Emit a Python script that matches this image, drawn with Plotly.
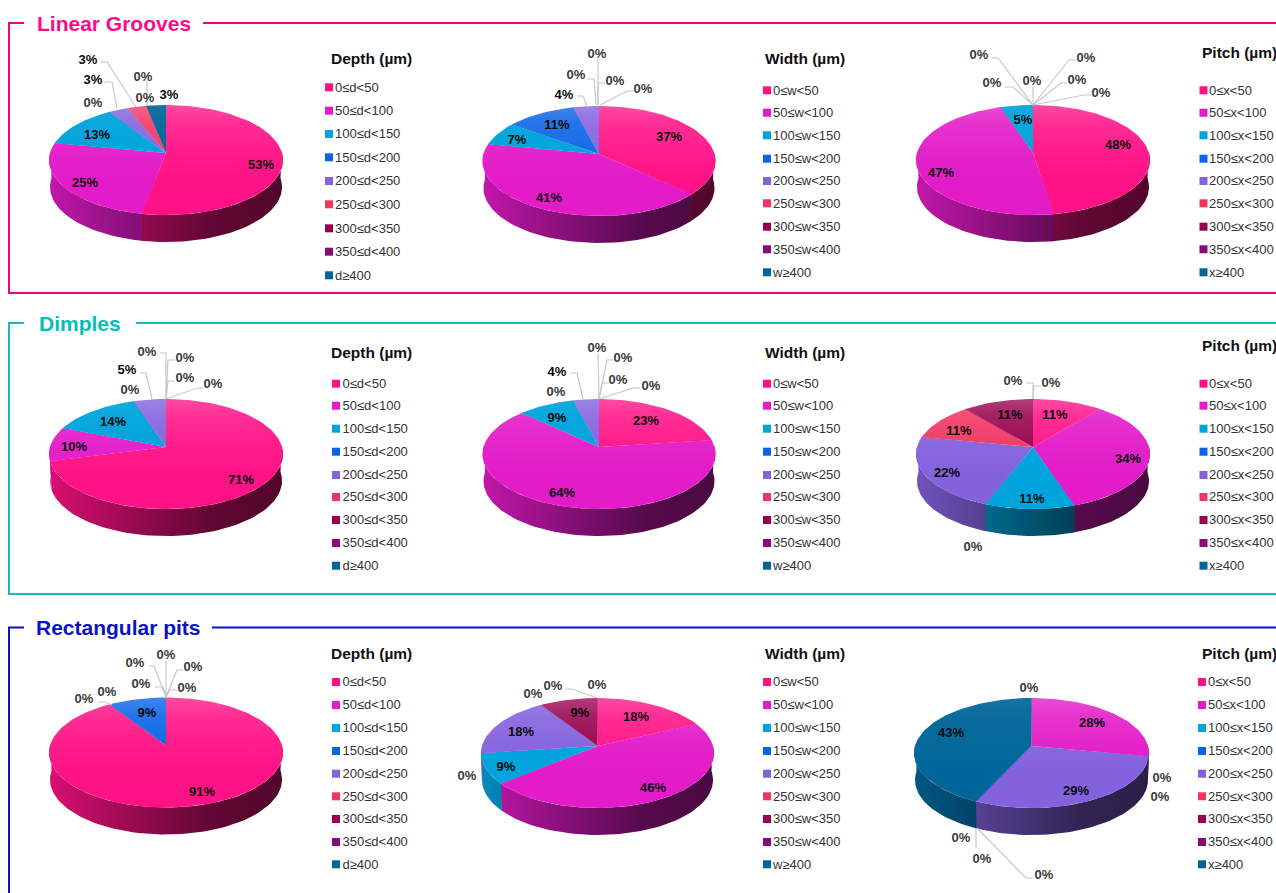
import math
import plotly.graph_objects as go

# ---------- data ----------
DEPTH_LABELS = ["0≤d<50", "50≤d<100", "100≤d<150", "150≤d<200", "200≤d<250",
                "250≤d<300", "300≤d<350", "350≤d<400", "d≥400"]
WIDTH_LABELS = ["0≤w<50", "50≤w<100", "100≤w<150", "150≤w<200", "200≤w<250",
                "250≤w<300", "300≤w<350", "350≤w<400", "w≥400"]
PITCH_LABELS = ["0≤x<50", "50≤x<100", "100≤x<150", "150≤x<200", "200≤x<250",
                "250≤x<300", "300≤x<350", "350≤x<400", "x≥400"]

GROOVES_DEPTH = [53, 25, 13, 0, 3, 3, 0, 0, 3]
GROOVES_WIDTH = [37, 41, 7, 11, 4, 0, 0, 0, 0]
GROOVES_PITCH = [47.6, 47.4, 5, 0, 0, 0, 0, 0, 0]
DIMPLES_DEPTH = [71, 10, 14, 0, 5, 0, 0, 0, 0]
DIMPLES_WIDTH = [23, 64, 9, 0, 4, 0, 0, 0, 0]
DIMPLES_PITCH = [11, 34, 11, 0, 22, 11, 11, 0, 0]
PITS_DEPTH = [91, 0, 0, 9, 0, 0, 0, 0, 0]
PITS_WIDTH = [18, 46, 9, 0, 18, 0, 9, 0, 0]
PITS_PITCH = [0, 28, 0, 0, 29, 0, 0, 0, 43]

# ---------- style ----------
COLORS = ["#FF1285", "#E31BC8", "#00A4DC", "#0A64E6", "#8462DE",
          "#F03560", "#99004F", "#8A0B78", "#006699"]
TINT_SCALE = [1, .9, .3, .9, .85, 1, 1, 1, .35]
FONT = "Liberation Sans"

# ---------- layout: pie placement (centre x, centre y, radius) ----------
PIES = [
    dict(v=GROOVES_DEPTH, c=(166, 153, 116)),
    dict(v=GROOVES_WIDTH, c=(599, 154, 115.5)),
    dict(v=GROOVES_PITCH, c=(1033, 153, 116)),
    dict(v=DIMPLES_DEPTH, c=(166, 447, 116)),
    dict(v=DIMPLES_WIDTH, c=(599, 447, 115.5)),
    dict(v=DIMPLES_PITCH, c=(1033, 447, 116)),
    dict(v=PITS_DEPTH, c=(166, 745.5, 116)),
    dict(v=PITS_WIDTH, c=(597.5, 746, 115.5)),
    dict(v=PITS_PITCH, c=(1031.5, 746, 116.5)),
]
# label centres, one per category
LABEL_XY = [
    [(261,164),(85,182),(97,134),(93,102),(93,79),(88,59),(143,76),(145,97),(169,94)],
    [(669,136),(549,197),(517,139),(557,124),(564,94),(576,74),(597,53),(615,80),(643,88)],
    [(1118,144),(941,172),(1023,119),(992,82),(979,54),(1032,80),(1086,57),(1077,79),(1101,92)],
    [(241,479),(74,446),(113,421),(130,389),(127,369),(147,351),(185,357),(185,377),(213,383)],
    [(646,420),(562,492),(557,417),(556,391),(557,371),(597,347),(623,357),(618,379),(651,385)],
    [(1055,414),(1128,458),(1032,498),(973,546),(947,472),(959,430),(1010,414),(1013,380),(1051,382)],
    [(202,791),(84,698),(107,691),(147,712),(141,683),(135,662),(166,654),(193,666),(187,687)],
    [(636,716),(653,787),(506,766),(467,775),(521,731),(533,693),(580,712),(553,685),(597,684)],
    [(1029,687),(1092,722),(1162,777),(1160,796),(1076,790),(961,837),(982,858),(1044,874),(951,732)],
]
LEADERS = [
    [[(103,82),(112,82),(117,109)], [(101,62),(107,62),(136,107)], [(147,80),(147,106)]],
    [[(577,96),(583,96),(587,106)], [(587,79),(594,79),(596,105)], [(598,59),(598,105)],
     [(605,83),(598,83),(598,105)], [(633,91),(627,91),(600,105)]],
    [[(1005,87),(1013,87),(1033,105)], [(992,58),(998,58),(1033,105)], [(1033,87),(1033,105)],
     [(1076,60),(1069,60),(1033,105)], [(1067,83),(1061,83),(1033,105)], [(1091,95),(1084,95),(1033,105)]],
    [[(140,373),(146,373),(152,399)], [(160,353),(166,353),(166,399)], [(175,360),(168,360),(166,399)],
     [(175,381),(168,381),(166,399)], [(203,388),(197,388),(166,399)]],
    [[(570,373),(577,373),(583,399)], [(598,353),(599,399)], [(613,360),(607,360),(599,399)],
     [(608,383),(602,383),(599,399)], [(640,388),(633,388),(599,399)]],
    [[(1026,383),(1033,383),(1033,399)], [(1041,386),(1034,386),(1033,399)]],
    [[(98,702),(105,702),(112,705)], [(148,666),(154,666),(166,697)], [(166,661),(166,697)],
     [(183,670),(177,670),(166,697)], [(177,690),(170,690),(166,697)], [(155,687),(163,687),(166,697)]],
    [[(565,689),(572,689),(597,698)]],
    [[(976,828),(976,848)], [(977,828),(1026,878),(1033,878)]],
]
# legend columns: header (x,y,text), marker x, text x, item y's
ROW_Y = [[87.3,110.7,134,157.3,181,204.3,228.3,251.7,275.3],
         [90.3,112.7,135.3,158.7,181,203.3,226.7,249.3,272.3],
         [383.7,405.7,428.7,451.7,475,497,520,543,565.7],
         [682,705,728,751,773.7,796.3,819,842,864.3]]
LEGENDS = [
    dict(h=(331,59,"Depth (µm)"), mx=329, tx=335, ys=ROW_Y[0], t=DEPTH_LABELS),
    dict(h=(765,59,"Width (µm)"), mx=767, tx=773, ys=ROW_Y[1], t=WIDTH_LABELS),
    dict(h=(1202,53,"Pitch (µm)"), mx=1203.5, tx=1209, ys=ROW_Y[1], t=PITCH_LABELS),
    dict(h=(331,353,"Depth (µm)"), mx=336, tx=342.5, ys=ROW_Y[2], t=DEPTH_LABELS),
    dict(h=(765,353,"Width (µm)"), mx=767, tx=773, ys=ROW_Y[2], t=WIDTH_LABELS),
    dict(h=(1202,346,"Pitch (µm)"), mx=1203.5, tx=1209, ys=ROW_Y[2], t=PITCH_LABELS),
    dict(h=(331,654,"Depth (µm)"), mx=336, tx=342.5, ys=ROW_Y[3], t=DEPTH_LABELS),
    dict(h=(765,654,"Width (µm)"), mx=767, tx=773, ys=ROW_Y[3], t=WIDTH_LABELS),
    dict(h=(1202,654,"Pitch (µm)"), mx=1202, tx=1208, ys=ROW_Y[3], t=PITCH_LABELS),
]
PANELS = [
    dict(t="Linear Grooves", tx=37, c="#F5007F", tc="#FF0A85", y0=23, y1=293, gap=(24,203)),
    dict(t="Dimples", tx=39, c="#14BDB8", tc="#05BEB8", y0=323, y1=594, gap=(24,136)),
    dict(t="Rectangular pits", tx=36, c="#0A14C4", tc="#0A14C4", y0=627.5, y1=None, gap=(24,212)),
]

# perspective of the pie's disc
A, K, DEPTH, RIM = 54.1, 0.1273, 27, 0.992
SEAM = 0.3  # degrees of overlap that hides hairlines between neighbouring slices


def rgb(c):
    return tuple(int(c[i:i+2], 16) for i in (1, 3, 5))


def shade(c, f):
    return "rgb(%d,%d,%d)" % tuple(min(255, round(x*f)) for x in rgb(c))


def tint(c, t):
    return "rgb(%d,%d,%d)" % tuple(round(x+(255-x)*t) for x in rgb(c))


def project(deg, cx, cy, R):
    th = math.radians(deg)
    u, v = math.sin(th), math.cos(th)
    w = 1 + K*v
    return cx + R*u/w, cy - A*v/w


fig = go.Figure()
xy = dict(hoverinfo="skip", showlegend=False)

for pie in PIES:
    cx, cy, R = pie["c"]
    vals = pie["v"]
    total = sum(vals)
    a = 0.0
    spans = []
    for val, col, ts in zip(vals, COLORS, TINT_SCALE):
        b = a + 360*val/total
        if val > 0:
            spans.append((a, b, col, ts))
        a = b
    # side wall first
    for a, b, col, ts in spans:
        lo, hi = max(a - SEAM, 88), min(b, 272)
        if hi <= lo:
            continue
        n = max(3, int((hi-lo)/2))
        degs = [lo + (hi-lo)*i/n for i in range(n+1)]
        top = [project(d, cx, cy, R) for d in degs]
        rim = [(cx + (x-cx)*RIM, y + DEPTH) for x, y in top]
        pts = top + rim[::-1]
        fig.add_trace(go.Scatter(
            x=[p[0] for p in pts], y=[p[1] for p in pts], mode="lines",
            line=dict(width=0), fill="toself",
            fillgradient=dict(type="horizontal", start=cx-R, stop=cx+R, colorscale=[
                [0, shade(col, .85)], [.4, shade(col, .57)], [.7, shade(col, .38)], [1, shade(col, .32)]]),
            **xy))
    # top face
    for a, b, col, ts in spans:
        lo = a - SEAM
        n = max(3, int((b-lo)/2))
        degs = [lo + (b-lo)*i/n for i in range(n+1)]
        pts = [(cx, cy)] + [project(d, cx, cy, R) for d in degs]
        fig.add_trace(go.Scatter(
            x=[p[0] for p in pts], y=[p[1] for p in pts], mode="lines",
            line=dict(width=0), fill="toself",
            fillgradient=dict(type="vertical", start=cy-48, stop=cy+62, colorscale=[
                [0, tint(col, .24*ts)], [.16, tint(col, .12*ts)], [.45, tint(col, .04*ts)],
                [.7, tint(col, 0)], [1, tint(col, 0)]]),
            **xy))

# leader lines
for group in LEADERS:
    for line in group:
        fig.add_trace(go.Scatter(x=[p[0] for p in line], y=[p[1] for p in line], mode="lines",
                                 line=dict(color="#C6C6CE", width=1.2), **xy))

# percentage labels
for pie, pos in zip(PIES, LABEL_XY):
    for val, p in zip(pie["v"], pos):
        fig.add_trace(go.Scatter(x=[p[0]], y=[p[1] + 1.5], mode="text", text=[f"{round(val)}%"],
                                 textposition="middle center",
                                 textfont=dict(family=FONT, size=13,
                                               color="#0A0A0A" if val else "#3A3A3A",
                                               weight="bold"), **xy))

# legends
for leg in LEGENDS:
    hx, hy, ht = leg["h"]
    fig.add_trace(go.Scatter(x=[hx], y=[hy + 1.5], mode="text", text=[ht], textposition="middle right",
                             textfont=dict(family=FONT, size=15.5, color="#111111", weight="bold"), **xy))
    fig.add_trace(go.Scatter(x=[leg["mx"]]*9, y=leg["ys"], mode="markers",
                             marker=dict(symbol="square", size=8, color=COLORS), **xy))
    fig.add_trace(go.Scatter(x=[leg["tx"]]*9, y=[y + 1 for y in leg["ys"]], mode="text", text=leg["t"],
                             textposition="middle right",
                             textfont=dict(family=FONT, size=13, color="#333333"), **xy))

# panel frames and titles
for p in PANELS:
    xs = [p["gap"][0], 9, 9] + ([1276] if p["y1"] else [])
    ys = [p["y0"], p["y0"], p["y1"] or 893] + ([p["y1"]] if p["y1"] else [])
    fig.add_trace(go.Scatter(x=xs, y=ys, mode="lines", line=dict(color=p["c"], width=2), **xy))
    fig.add_trace(go.Scatter(x=[p["gap"][1], 1276], y=[p["y0"]]*2, mode="lines",
                             line=dict(color=p["c"], width=2), **xy))
    fig.add_trace(go.Scatter(x=[p["tx"]], y=[p["y0"] + 2.5], mode="text", text=[p["t"]],
                             textposition="middle right",
                             textfont=dict(family=FONT, size=21, color=p["tc"], weight="bold"), **xy))

fig.update_layout(
    width=1276, height=893, margin=dict(l=0, r=0, t=0, b=0),
    paper_bgcolor="white", plot_bgcolor="white", showlegend=False,
    xaxis=dict(range=[0, 1276], visible=False, fixedrange=True),
    yaxis=dict(range=[893, 0], visible=False, fixedrange=True),
)
fig.write_html("out.html", config=dict(displayModeBar=False),
               post_script="document.body.style.margin='0';document.documentElement.style.overflow='hidden';")
